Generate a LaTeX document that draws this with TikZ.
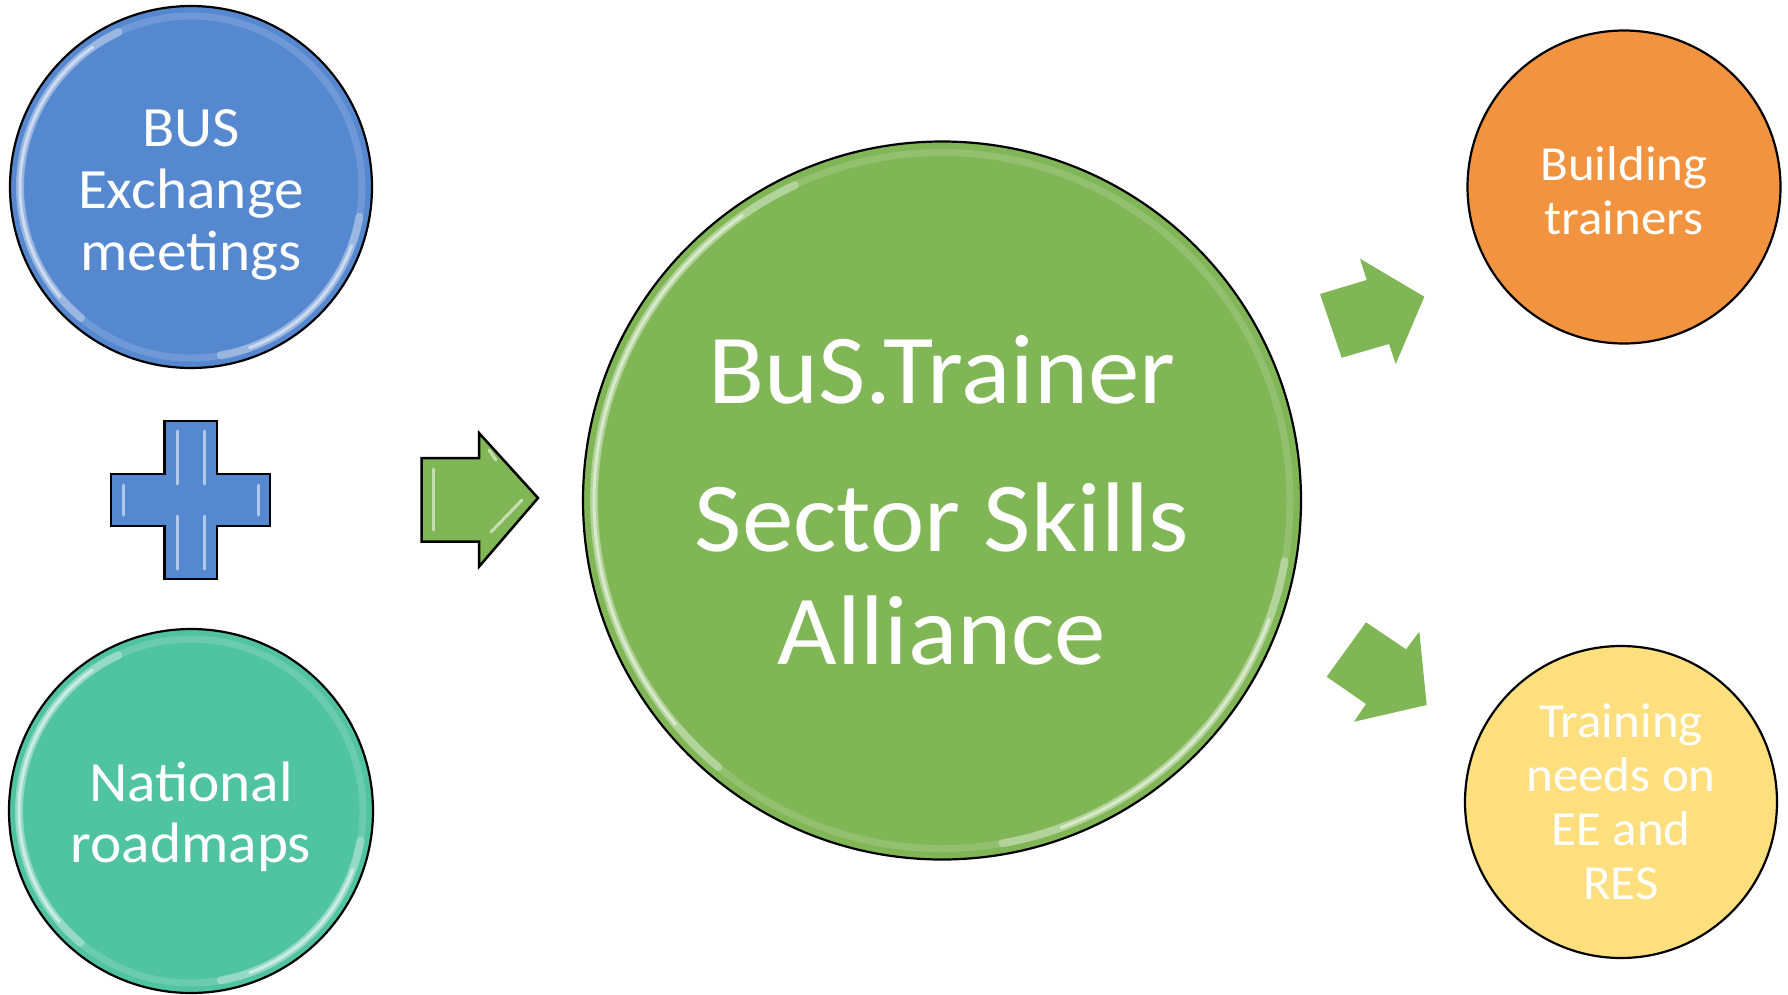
\documentclass[tikz,border=0pt]{standalone}
\usepackage{fontspec}
\setmainfont[FakeStretch=1.04]{Carlito}
\definecolor{cblue}{HTML}{5688CF}
\definecolor{cteal}{HTML}{50C3A0}
\definecolor{cgreen}{HTML}{80B656}
\definecolor{corange}{HTML}{F29340}
\definecolor{cyellow}{HTML}{FDDF7E}
\tikzset{
  bubble/.style={circle, draw=black, line width=2.2pt, inner sep=0pt, text=white, align=center},
  shine/.style={white, line cap=round},
  blockshape/.style={draw=black, line width=2.5pt, line join=miter},
  flatarrow/.style={fill=cgreen, draw=none},
  bevel/.style={white, opacity=0.55, line width=3pt, line cap=round},
}
\newcommand\glossring[2]{%
  \draw[white, opacity=0.15, line width=7pt] (#1.center) circle[radius=#2];
  \draw[shine, opacity=0.3, line width=8pt] ([shift={(115:#2)}]#1.center) arc[start angle=115, end angle=230, radius=#2];
  \draw[shine, opacity=0.5, line width=3pt] ([shift={(125:#2)}]#1.center) arc[start angle=125, end angle=220, radius=#2];
  \draw[shine, opacity=0.3, line width=8pt] ([shift={(-80:#2)}]#1.center) arc[start angle=-80, end angle=-10, radius=#2];
  \draw[shine, opacity=0.5, line width=3pt] ([shift={(-70:#2)}]#1.center) arc[start angle=-70, end angle=-20, radius=#2];
}
\begin{document}
\begin{tikzpicture}[x=1pt, y=1pt]
\path[use as bounding box, fill=white] (0,0) rectangle (1788,-994);

% left circles
\node[bubble, fill=cblue, minimum size=362pt, font=\fontsize{57}{62}\selectfont] (bus) at (191,-187)
  {\rule{0pt}{53pt}BUS\\Exchange\\meetings};
\glossring{bus}{171}
\node[bubble, fill=cteal, minimum size=364pt, font=\fontsize{57}{61}\selectfont] (nat) at (191,-811)
  {\rule{0pt}{52pt}National\\roadmaps};
\glossring{nat}{172}

% plus sign
\draw[blockshape, fill=cblue] (164.6,-421) -- (217,-421) -- (217,-474) -- (270,-474) -- (270,-526)
  -- (217,-526) -- (217,-579) -- (164.6,-579) -- (164.6,-526) -- (111,-526) -- (111,-474)
  -- (164.6,-474) -- cycle;
\draw[bevel] (177,-431) -- (177,-484);
\draw[bevel] (204,-431) -- (204,-484);
\draw[bevel] (177,-516) -- (177,-569);
\draw[bevel] (204,-516) -- (204,-569);
\draw[bevel] (123,-485) -- (123,-515);
\draw[bevel] (258,-485) -- (258,-515);

% left block arrow
\coordinate (la1) at (421.7,-458);
\coordinate (la2) at (479,-458);
\coordinate (la3) at (479,-433);
\coordinate (latip) at (538,-498);
\coordinate (la5) at (479,-566.7);
\coordinate (la6) at (479,-541.7);
\coordinate (la7) at (421.7,-541.7);
\draw[blockshape, fill=cgreen] (la1) -- (la2) -- (la3) -- (latip) -- (la5) -- (la6) -- (la7) -- cycle;
\draw[bevel] (433,-469) -- (433,-530);
\draw[bevel] (491,-532) -- (522,-500);
\draw[bevel] (489,-450) -- (496,-460);

% central circle
\node[bubble, fill=cgreen, minimum size=718pt, font=\fontsize{99}{113}\selectfont] (bst) at (942,-500.5)
  {BuS.Trainer\\[35pt]Sector Skills\\Alliance};
\glossring{bst}{348}

% right arrows
\draw[flatarrow] (1320,-294) -- (1366.7,-280) -- (1360,-258.7) -- (1424.3,-296.7)
  -- (1395.7,-364) -- (1389,-344) -- (1341.7,-357.7) -- cycle;
\draw[flatarrow] (1326.7,-676.7) -- (1366,-622.3) -- (1406,-649.3) -- (1419.3,-631.7)
  -- (1426.7,-705) -- (1354,-721.7) -- (1366,-704) -- cycle;

% right circles
\node[bubble, fill=corange, minimum size=313pt, font=\fontsize{49}{54}\selectfont] (bld) at (1624,-187)
  {\rule{0pt}{41pt}Building\\trainers};
\node[bubble, fill=cyellow, minimum size=312pt, font=\fontsize{49}{54}\selectfont] (tn) at (1621,-802)
  {Training\\needs on\\EE and\\RES};
\end{tikzpicture}
\end{document}
